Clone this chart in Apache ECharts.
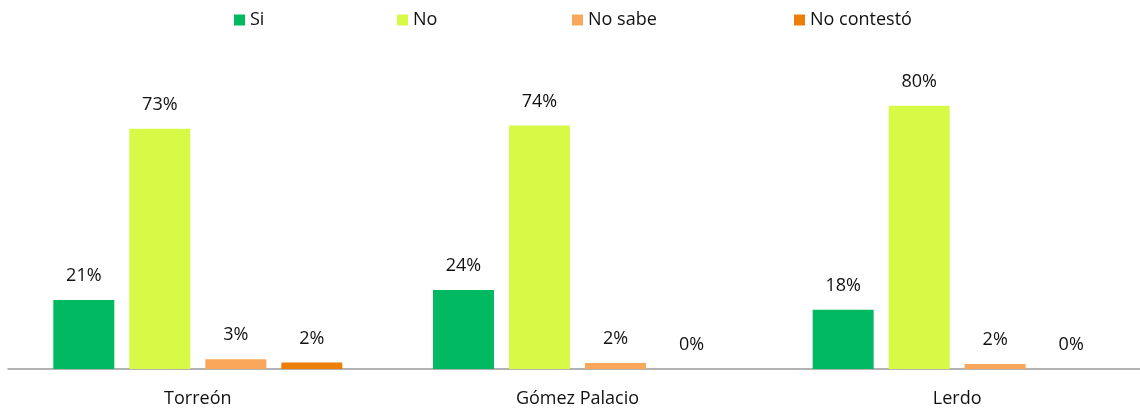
<!DOCTYPE html>
<html>
<head>
<meta charset="utf-8">
<script src="https://cdn.jsdelivr.net/npm/echarts@6/dist/echarts.min.js"></script>
<style>
  html, body { margin: 0; padding: 0; background: #fff; overflow: hidden; }
  #wrap { width: 1140px; height: 408px; overflow: hidden; }
  /* un poco mas ancho para que la ultima categoria quede como en el original */
  #chart { width: 1147px; height: 408px; }
</style>
</head>
<body>
<div id="wrap"><div id="chart"></div></div>
<script>
// categorias y series
var categories = ['Torreón', 'Gómez Palacio', 'Lerdo'];
var seriesNames = ['Si', 'No', 'No sabe', 'No contestó'];
var si = [21, 24, 18];
var no = [73, 74, 80];
var noSabe = [3, 1.8, 1.5];
var noContesto = [2, 0, 0];
var colors = ['#00B960', '#D6FA45', '#F9A75A', '#EC7F0A'];

var font = 'Open Sans';
var textColor = '#111';

// cada leyenda se coloca por separado
var legendLeft = [229, 392, 567, 789];

var chart = echarts.init(document.getElementById('chart'), null, { renderer: 'canvas' });

function makeSeries(name, data, i) {
  return {
    name: name,
    type: 'bar',
    data: data,
    barWidth: 61,
    barGap: '24.6%',
    itemStyle: { color: colors[i] },
    label: {
      show: true,
      position: 'top',
      distance: 15,
      fontFamily: font,
      fontSize: 18,
      color: textColor,
      formatter: function (p) { return Math.round(p.value) + '%'; }
    }
  };
}

var option = {
  animation: false,
  backgroundColor: '#fff',
  legend: seriesNames.map(function (n, i) {
    return {
      data: [n],
      left: legendLeft[i],
      top: 6,
      itemWidth: 11,
      itemHeight: 11,
      icon: 'rect',
      textStyle: { fontFamily: font, fontSize: 18, color: textColor }
    };
  }),
  grid: { left: 8, right: 0, top: 40, bottom: 39, containLabel: false },
  xAxis: {
    type: 'category',
    data: categories,
    axisTick: { show: false },
    axisLine: { lineStyle: { color: '#999', width: 1.5 } },
    axisLabel: { fontFamily: font, fontSize: 18, color: textColor, margin: 21 }
  },
  yAxis: {
    type: 'value',
    min: 0,
    max: 100,
    show: false,
    splitLine: { show: false }
  },
  series: [
    makeSeries(seriesNames[0], si, 0),
    makeSeries(seriesNames[1], no, 1),
    makeSeries(seriesNames[2], noSabe, 2),
    makeSeries(seriesNames[3], noContesto, 3)
  ]
};

chart.setOption(option);
</script>
</body>
</html>
